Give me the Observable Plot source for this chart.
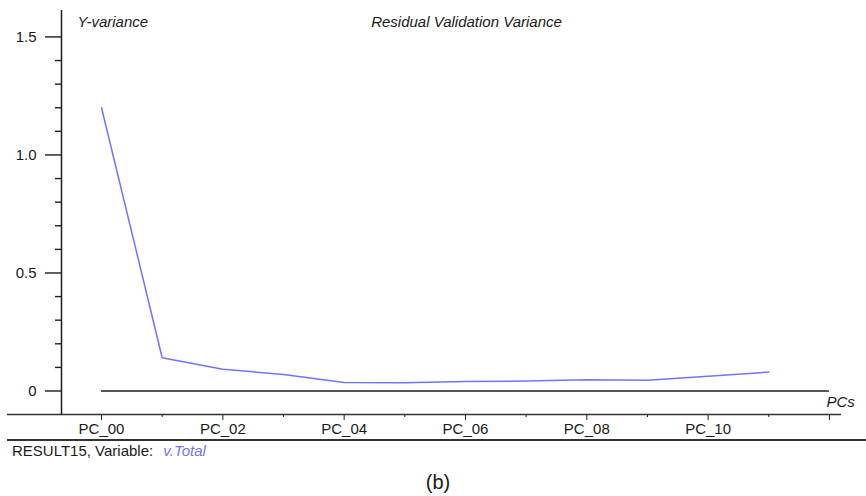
<!DOCTYPE html>
<html>
<head>
<meta charset="utf-8">
<script src="https://cdn.jsdelivr.net/npm/d3@7"></script>
<script src="https://cdn.jsdelivr.net/npm/@observablehq/plot@0.6"></script>
<style>
  html, body { margin: 0; padding: 0; background: #fff; }
  body { width: 866px; height: 496px; overflow: hidden; font-family: "Liberation Sans", Arial, sans-serif; color: #1a1a1a; }
  #chart svg { display: block; }
  #info { margin-left: 7px; border-top: 2px solid #333; padding-left: 5px; font-size: 15px; line-height: 20px; height: 20px; }
  #info .var { color: #7373ff; font-style: italic; margin-left: 6px; }
  #cap { text-align: center; padding-left: 10px; margin-top: 10px; font-size: 20px; line-height: 22px; }
</style>
</head>
<body>
<div id="chart"></div>
<div id="info">RESULT15, Variable: <span class="var">v.Total</span></div>
<div id="cap">(b)</div>
<script>
// Data
const categories = ["PC_00","PC_01","PC_02","PC_03","PC_04","PC_05","PC_06","PC_07","PC_08","PC_09","PC_10","PC_11"];
const residualVariance = [1.20, 0.141, 0.092, 0.070, 0.036, 0.035, 0.040, 0.042, 0.048, 0.045, 0.062, 0.080];
const xTickLabels = ["PC_00","PC_02","PC_04","PC_06","PC_08","PC_10",""];
const yMajorTicks = [0, 0.5, 1.0, 1.5];
const yMinorTicks = [0.1,0.2,0.3,0.4,0.6,0.7,0.8,0.9,1.1,1.2,1.3,1.4];

const data = categories.map((c, i) => ({i, c, v: residualVariance[i]}));
const xMajor = d3.range(0, 13, 2);
const xMinor = d3.range(1, 12, 2);
const xDomain = [-0.66, 12.1];
const yDomain = [-0.0996, 1.612];
const ink = "#1e1e1e";
const lineColor = "#7373ff";

const plot = Plot.plot({
  width: 866,
  height: 439,
  marginTop: 10,
  marginLeft: 61,
  marginRight: 31,
  marginBottom: 25,
  style: {fontFamily: "'Liberation Sans', Arial, sans-serif", fontSize: "15px", color: "#1a1a1a", background: "#fff", overflow: "visible"},
  x: {domain: xDomain},
  y: {domain: yDomain},
  marks: [
    // y axis: major and minor ticks
    Plot.axisY(yMajorTicks, {tickSize: 16, tickPadding: 9, stroke: ink, strokeWidth: 1.4, strokeOpacity: 1, fontSize: 15, tickFormat: d => d === 0 ? "0" : d.toFixed(1), label: null}),
    Plot.axisY(yMinorTicks, {tickSize: 6, text: null, stroke: ink, strokeWidth: 1.4, strokeOpacity: 1, label: null}),
    // x axis: major and minor ticks
    Plot.axisX(xMajor, {tickSize: 6, tickPadding: 3, stroke: ink, strokeOpacity: 1, fontSize: 15, tickFormat: d => xTickLabels[d / 2], label: null}),
    Plot.axisX(xMinor, {tickSize: 3, text: null, stroke: ink, strokeOpacity: 1, label: null}),
    // axis lines
    Plot.ruleX([xDomain[0]], {y1: yDomain[0], y2: yDomain[1], stroke: ink, strokeWidth: 1.5}),
    Plot.ruleY([yDomain[0]], {x1: -1.55, x2: 12.2, stroke: "#333", strokeWidth: 1.5}),
    // zero reference line
    Plot.ruleY([0], {x1: xMajor[0], x2: xMajor[xMajor.length - 1], stroke: ink, strokeWidth: 1.3}),
    // series
    Plot.line(data, {x: "i", y: "v", stroke: lineColor, strokeWidth: 1.5}),
    // texts
    Plot.text(["Y-variance"], {frameAnchor: "top-left", dx: 16, dy: 12, textAnchor: "start", lineAnchor: "middle", fontStyle: "italic", fontSize: 15, fill: "#1a1a1a"}),
    Plot.text(["Residual Validation Variance"], {frameAnchor: "top", dx: 18, dy: 12, lineAnchor: "middle", fontStyle: "italic", fontSize: 15, fill: "#1a1a1a"}),
    Plot.text(["PCs"], {frameAnchor: "bottom-right", dx: -9, dy: -12, textAnchor: "start", lineAnchor: "middle", fontStyle: "italic", fontSize: 15, fill: "#1a1a1a"})
  ]
});
document.getElementById("chart").appendChild(plot);
</script>
</body>
</html>
